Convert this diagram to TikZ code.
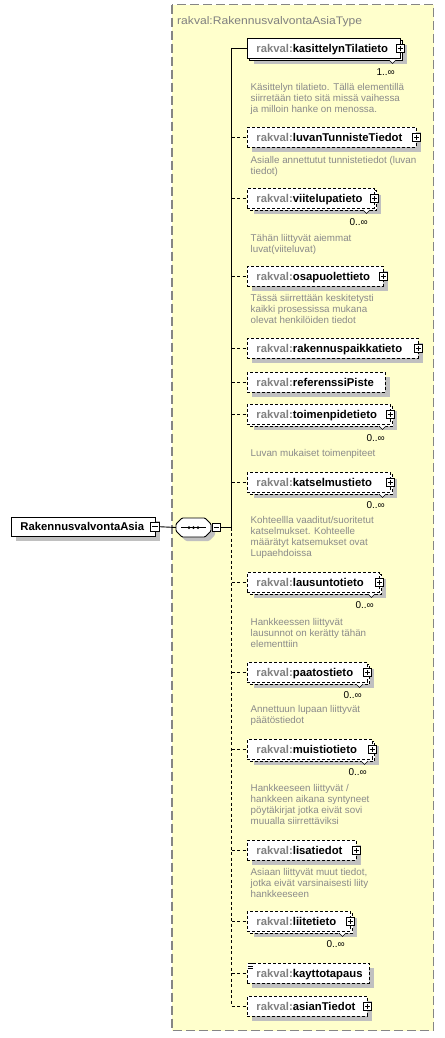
\documentclass[tikz,border=0pt]{standalone}
\usepackage{fontspec}
\setmainfont{Liberation Sans}
\newfontfamily\titlefont[FakeStretch=1.1]{Liberation Sans}
\definecolor{bgyellow}{HTML}{FFFFCC}
\definecolor{pfx}{HTML}{808080}
\definecolor{desccol}{HTML}{8A8A8A}
\definecolor{shd}{HTML}{C0C0C0}
\definecolor{framecol}{HTML}{858585}
\tikzset{
  elem/.style={draw=black, fill=white, line width=0.9bp, anchor=north west, inner xsep=9bp, inner ysep=0pt,
    minimum height=19.5bp, text height=8.1bp, text depth=0bp, font=\fontsize{11.3bp}{13bp}\selectfont\bfseries},
  elsolid/.style={solid},
  eldash/.style={dash pattern=on 3bp off 2bp},
  pbox/.style={draw=black, fill=white, line width=0.7bp, minimum size=8.5bp, inner sep=0pt,
    path picture={\draw[line width=0.7bp] ([xshift=-2.6bp]path picture bounding box.center) -- ([xshift=2.6bp]path picture bounding box.center)
      ([yshift=-2.6bp]path picture bounding box.center) -- ([yshift=2.6bp]path picture bounding box.center);}},
  mbox/.style={draw=black, fill=white, line width=0.7bp, minimum size=8.5bp, inner sep=0pt,
    path picture={\draw[line width=0.7bp] ([xshift=-2.6bp]path picture bounding box.center) -- ([xshift=2.6bp]path picture bounding box.center);}},
  desc/.style={anchor=north west, inner sep=0pt, align=left, text=desccol, font=\fontsize{9.8bp}{11bp}\selectfont},
  mult/.style={anchor=east, inner sep=0pt, font=\fontsize{10bp}{12bp}\selectfont},
  conn/.style={line width=0.9bp},
  conndash/.style={line width=0.9bp, dash pattern=on 3bp off 2.5bp},
}
\newcommand\xelem[7]{%
  \pgfmathsetmacro\xr{247+#3}%
  \pgfmathsetmacro\xb{#2+19.5}%
  \ifnum#5=1
    \fill[shd] (253.5,#2+6.5) rectangle (\xr+6.5,\xb+6.5);
    \draw[#4,line width=0.9bp,fill=white] (249.5,#2+2.5) rectangle (\xr+2.5,\xb+2.5);
    \draw[line width=0.6bp,fill=white] (\xr-11,\xb+2.5) -- (\xr-7.5,\xb+6) -- (\xr-4,\xb+2.5);
  \else
    \fill[shd] (252,#2+5) rectangle (\xr+5,\xb+5);
  \fi
  \node[elem,#4,minimum width=#3bp] (#1) at (247,#2) {\makebox[\dimexpr#3bp-18bp\relax][l]{\textcolor{pfx}{rakval:}#7}};
  \ifnum#6=1 \node[pbox] (#1p) at ([xshift=-0.5bp]#1.east) {};\fi
}
\begin{document}
\begin{tikzpicture}[x=1bp,y=-1bp]
\useasboundingbox (0,0) rectangle (445,1038);
% type frame
\draw[fill=bgyellow, draw=framecol, line width=1.2bp, dash pattern=on 9bp off 4bp] (172,4.5) rectangle (433.5,1030.5);
\node[anchor=base west, inner sep=0pt, text=pfx, font=\titlefont\fontsize{11bp}{13bp}\selectfont] (title) at (177,24) {rakval:RakennusvalvontaAsiaType};

% root element
\fill[shd] (16,521) rectangle (160,541);
\node[elem, minimum width=144bp] (root) at (11,516.5) {\makebox[126bp][l]{RakennusvalvontaAsia}};
\node[mbox] (rootm) at ([xshift=-1bp]root.east) {};

% sequence compositor
\fill[shd, rounded corners=1bp] (180,528) -- (186,522) -- (209,522) -- (215,528) -- (215,535) -- (209,541) -- (186,541) -- (180,535) -- cycle;
\draw[fill=white, line width=0.9bp, rounded corners=1bp] (176,524) -- (182,518) -- (205,518) -- (211,524) -- (211,531) -- (205,537) -- (182,537) -- (176,531) -- cycle;
\node[minimum width=35bp, minimum height=19bp, inner sep=0pt] (seq) at (193.5,527.5) {};
\draw[line width=0.9bp] (181,527.5) -- (206,527.5);
\foreach \dx in {189,193.5,198} \fill (\dx,527.5) circle (1.5bp);
\node[mbox] (seqm) at (216.5,527.5) {};
\draw[conn] (rootm.east) -- (seq.west);

% spine
\coordinate (sptop) at (231.5,47.75);
\coordinate (spmid) at (231.5,527.5);
\coordinate (spbot) at (231.5,1005.75);
\draw[conn] (seqm.east) -- (spmid);
\draw[conn] (sptop) -- (spmid);
\draw[conndash] (spmid) -- (spbot);

% elements
\xelem{e1}{38}{153}{elsolid}{1}{1}{kasittelynTilatieto}
\xelem{e2}{127}{169}{eldash}{0}{1}{luvanTunnisteTiedot}
\xelem{e3}{188}{127}{eldash}{1}{1}{viitelupatieto}
\xelem{e4}{266}{136}{eldash}{0}{1}{osapuolettieto}
\xelem{e5}{338}{171}{eldash}{0}{1}{rakennuspaikkatieto}
\xelem{e6}{372}{138}{eldash}{0}{0}{referenssiPiste}
\xelem{e7}{404}{143}{eldash}{1}{1}{toimenpidetieto}
\xelem{e8}{472}{143}{eldash}{1}{1}{katselmustieto}
\xelem{e9}{572}{132}{eldash}{1}{1}{lausuntotieto}
\xelem{e10}{662}{120}{eldash}{1}{1}{paatostieto}
\xelem{e11}{739}{125}{eldash}{1}{1}{muistiotieto}
\xelem{e12}{840}{109}{eldash}{0}{1}{lisatiedot}
\xelem{e13}{911}{103}{eldash}{1}{1}{liitetieto}
\xelem{e14}{963}{122}{eldash}{0}{0}{kayttotapaus}
\xelem{e15}{996}{120}{eldash}{0}{1}{asianTiedot}

% icon on kayttotapaus
\fill[white] (246.6,962.6) rectangle (254.2,969);
\draw[line width=0.8bp] (247.5,963.8) -- (254,963.8) (247.5,966.2) -- (253,966.2) (247.5,968.5) -- (253,968.5);

% connectors
\draw[conn] (e1.west -| sptop) -- (e1.west);
\foreach \e in {e2,e3,e4,e5,e6,e7,e8,e9,e10,e11,e12,e13,e14,e15}
  \draw[conndash] (\e.west -| sptop) -- (\e.west);

% multiplicities
\node[mult] (m1) at (395,72) {1..∞};
\node[mult] (m3) at (368,222) {0..∞};
\node[mult] (m7) at (385,438) {0..∞};
\node[mult] (m8) at (385,505) {0..∞};
\node[mult] (m9) at (374,605) {0..∞};
\node[mult] (m10) at (362,695) {0..∞};
\node[mult] (m11) at (367,772) {0..∞};
\node[mult] (m13) at (345,944) {0..∞};

% documentation
\node[desc] (d1) at (250.5,83.4) {Käsittelyn tilatieto. Tällä elementillä\\siirretään tieto sitä missä vaihessa\\ja milloin hanke on menossa.};
\node[desc] (d2) at (250.5,156.4) {Asialle annettutut tunnistetiedot (luvan\\tiedot)};
\node[desc] (d3) at (250.5,234.4) {Tähän liittyvät aiemmat\\luvat(viiteluvat)};
\node[desc] (d4) at (250.5,294.4) {Tässä siirrettään keskitetysti\\kaikki prosessissa mukana\\olevat henkilöiden tiedot};
\node[desc] (d7) at (250.5,449.4) {Luvan mukaiset toimenpiteet};
\node[desc] (d8) at (250.5,516.4) {Kohteellla vaaditut/suoritetut\\katselmukset. Kohteelle\\määrätyt katsemukset ovat\\Lupaehdoissa};
\node[desc] (d9) at (250.5,618.4) {Hankkeessen liittyvät\\lausunnot on kerätty tähän\\elementtiin};
\node[desc] (d10) at (250.5,705.4) {Annettuun lupaan liittyvät\\päätöstiedot};
\node[desc] (d11) at (250.5,784.4) {Hankkeeseen liittyvät /\\hankkeen aikana syntyneet\\pöytäkirjat jotka eivät sovi\\muualla siirrettäviksi};
\node[desc] (d12) at (250.5,868.4) {Asiaan liittyvät muut tiedot,\\jotka eivät varsinaisesti liity\\hankkeeseen};
\end{tikzpicture}
\end{document}
